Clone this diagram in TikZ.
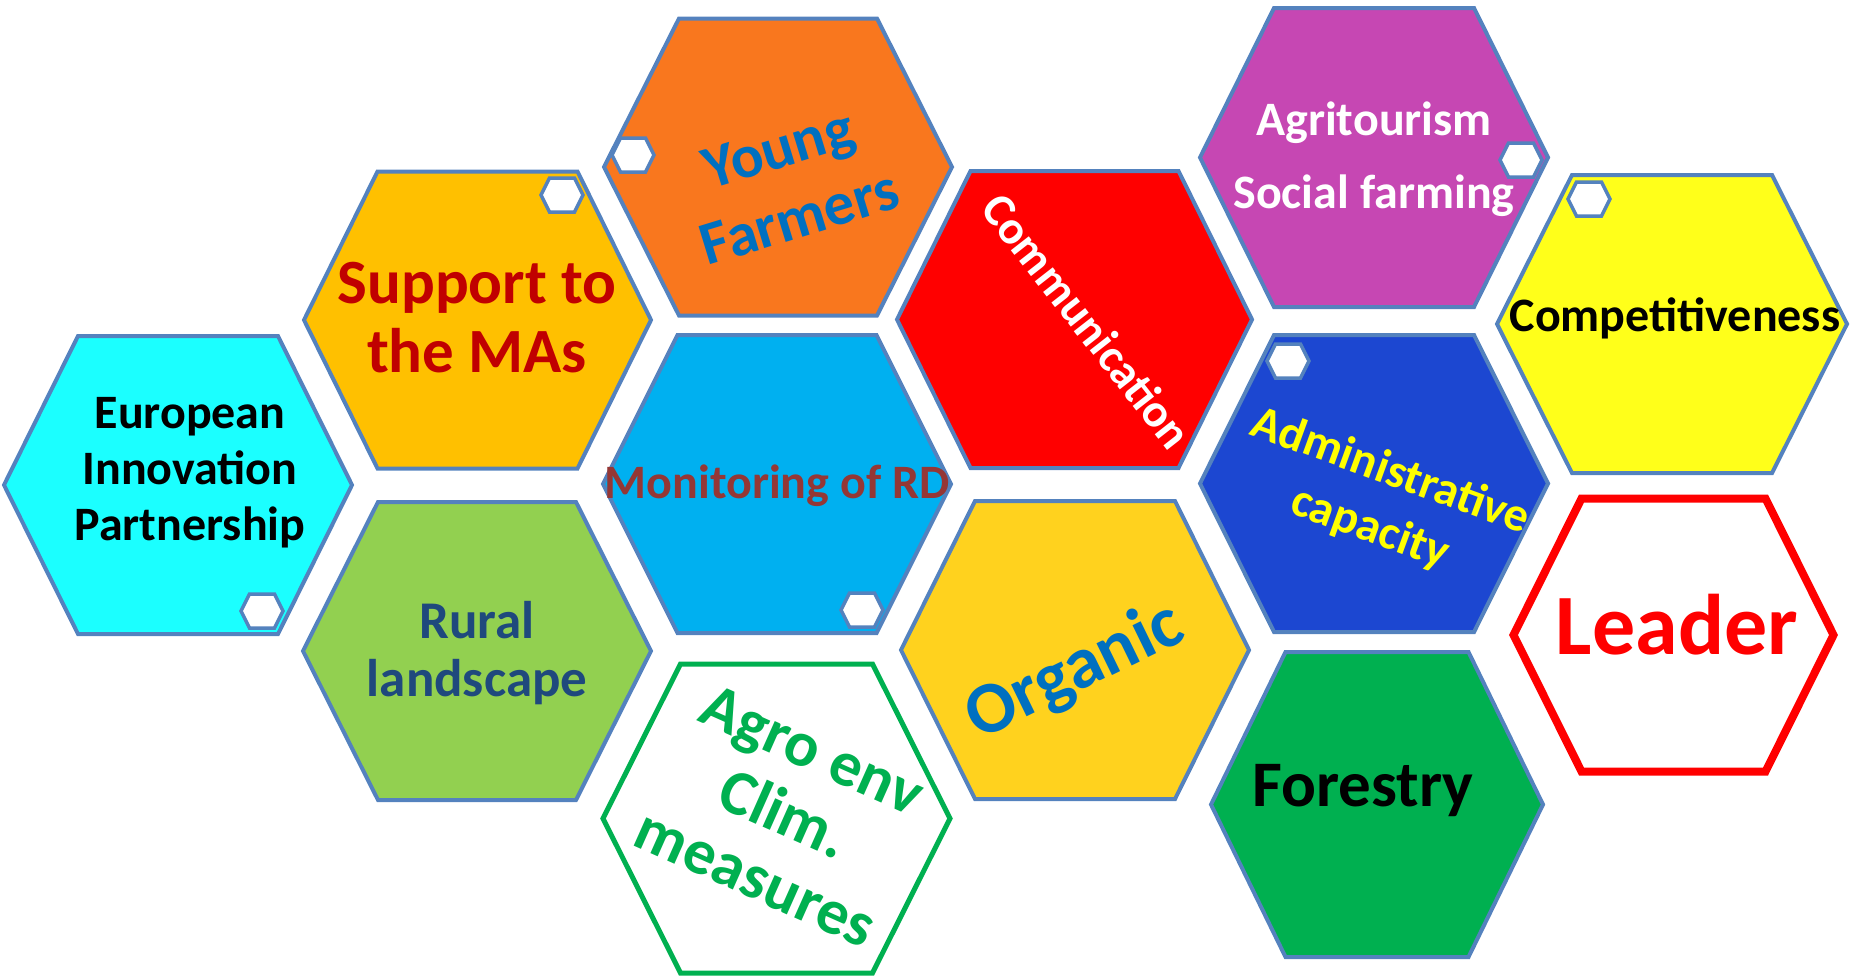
\documentclass[tikz,border=0pt]{standalone}
\usepackage{fontspec}
\setmainfont{Carlito}
\definecolor{hexborder}{HTML}{5482BE}
\definecolor{cyanfill}{HTML}{1BFFFF}
\definecolor{supportfill}{HTML}{FFC000}
\definecolor{ruralfill}{HTML}{92D050}
\definecolor{youngfill}{HTML}{F9771E}
\definecolor{monfill}{HTML}{00B0F0}
\definecolor{commfill}{HTML}{FF0000}
\definecolor{orgfill}{HTML}{FFD21E}
\definecolor{agrifill}{HTML}{C647B3}
\definecolor{adminfill}{HTML}{1C47D1}
\definecolor{forfill}{HTML}{00B050}
\definecolor{compfill}{HTML}{FFFF1A}
\definecolor{agrogreen}{HTML}{00B050}
\definecolor{leaderred}{HTML}{FF0000}
\definecolor{supporttext}{HTML}{C00000}
\definecolor{bluetext}{HTML}{0070C0}
\definecolor{montext}{HTML}{953735}
\definecolor{ruraltext}{HTML}{1F497D}
\definecolor{admintext}{HTML}{FFFF00}
\newcommand\myhex[6]{\draw[#1] ({#2-#4},#3) -- ({#2-#6},{#3-#5}) -- ({#2+#6},{#3-#5}) -- ({#2+#4},#3) -- ({#2+#6},{#3+#5}) -- ({#2-#6},{#3+#5}) -- cycle;}
\tikzset{
  bighex/.style={draw=hexborder, line width=4pt, line join=miter},
  smallhex/.style={draw=hexborder, line width=3.5pt, fill=white, line join=miter},
  lbl/.style={align=center, inner sep=0pt},
  fs/.style 2 args={font=\bfseries\fontsize{#1}{#2}\selectfont},
}
\begin{document}
\begin{tikzpicture}[x=1pt,y=-1pt]
\useasboundingbox (0,0) rectangle (1858,977);
% big hexagons
\myhex{bighex, fill=cyanfill}{178}{485}{174}{149}{100}
\myhex{bighex, fill=supportfill}{477.5}{320}{173.5}{148.5}{100}
\myhex{bighex, fill=ruralfill}{477}{651}{174}{149}{99}
\myhex{bighex, fill=youngfill}{778}{167}{174}{148.5}{99}
\myhex{bighex, fill=monfill}{777}{484}{174}{149}{99.5}
\myhex{draw=agrogreen, line width=5pt, fill=white, line join=miter}{776.5}{818.5}{173.5}{154.5}{96}
\myhex{bighex, fill=commfill}{1074.5}{319.5}{177.5}{148.5}{104}
\myhex{bighex, fill=orgfill}{1075}{650}{174}{149}{100}
\myhex{bighex, fill=agrifill}{1374}{157.5}{174}{149.5}{100}
\myhex{bighex, fill=adminfill}{1374}{483.5}{174}{148.5}{100}
\myhex{bighex, fill=forfill}{1377}{804.5}{166}{152.5}{91.5}
\myhex{bighex, fill=compfill}{1672}{324}{175}{149}{100}
\myhex{draw=leaderred, line width=8pt, fill=white, line join=miter}{1673.5}{635}{160}{136.5}{92}
% small hexagons
\myhex{smallhex}{262}{611}{21}{17}{12.5}
\myhex{smallhex}{562}{195}{21}{17}{12.5}
\myhex{smallhex}{633}{155}{21}{17}{12.5}
\myhex{smallhex}{862}{610}{21}{17}{12.5}
\myhex{smallhex}{1521}{160}{21}{17}{12.5}
\myhex{smallhex}{1288}{361}{21}{17}{12.5}
\myhex{smallhex}{1589}{199}{21}{17}{12.5}
% labels
\node[lbl, fs={48}{56}, text=black] (eip) at (190,473) {European\\Innovation\\Partnership};
\node[lbl, fs={63}{69}, text=supporttext] (support) at (477,318) {Support to\\the MAs};
\node[lbl, fs={53}{58}, text=ruraltext] (rural) at (477,653) {Rural\\landscape};
\node[lbl, fs={61}{72}, text=bluetext, rotate=17] (young) at (789,183) {Young\\Farmers};
\node[lbl, fs={48}{53}, text=montext, anchor=base] (monitor) at (777,498) {Monitoring of RD};
\node[lbl, fs={64}{70}, text=agrogreen, rotate=-24] (agro) at (784,814) {Agro env\\Clim.\\measures};
\node[lbl, fs={47}{54}, text=white, rotate=-52] (comm) at (1087,321) {Communication};
\node[lbl, fs={73}{78}, text=bluetext, rotate=26] (organic) at (1075,672) {Organic};
\node[lbl, fs={48}{73}, text=white] (agri) at (1374,159) {Agritourism\\Social farming};
\node[lbl, fs={48}{60}, text=admintext, rotate=-20] (admin) at (1380,500) {Administrative\\capacity};
\node[lbl, fs={65}{70}, text=black, anchor=base] (forestry) at (1363,806) {Forestry};
\node[lbl, fs={48}{54}, text=black, anchor=base] (comp) at (1675,331) {Competitiveness};
\node[lbl, fs={86}{96}, text=leaderred, anchor=base] (leader) at (1677,654) {Leader};
\end{tikzpicture}
\end{document}
